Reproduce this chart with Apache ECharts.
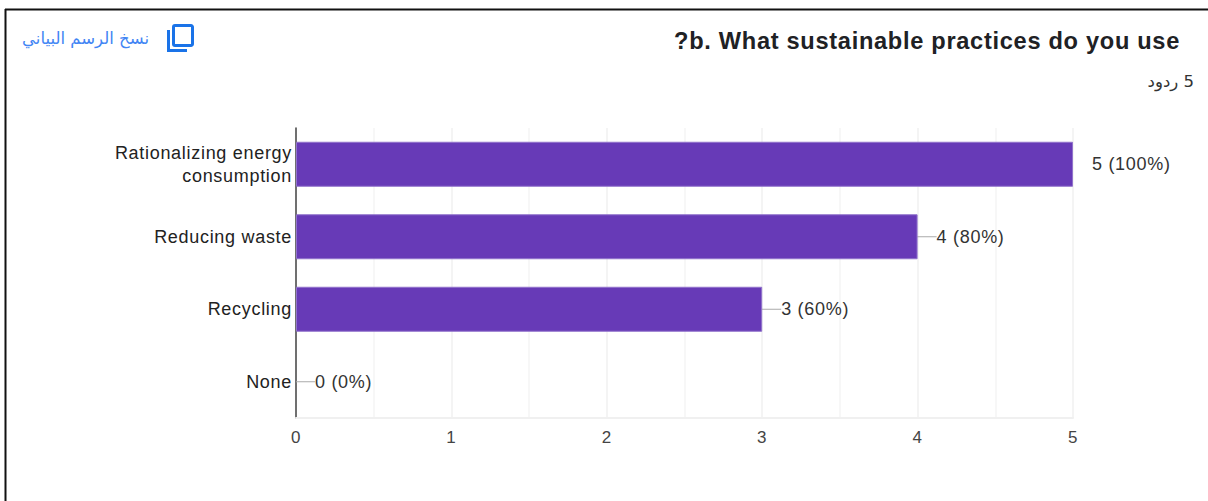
<!DOCTYPE html>
<html><head><meta charset="utf-8">
<style>html,body{margin:0;padding:0;background:#fff}#c{width:1208px;height:501px}
#c text{letter-spacing:.7px}
#c text[style*="DejaVu"]{letter-spacing:0}
</style>
<script src="https://cdn.jsdelivr.net/npm/echarts@6/dist/echarts.min.js"></script>
</head><body><div id="c"></div>
<script>
const categories = ['Rationalizing energy\nconsumption', 'Reducing waste', 'Recycling', 'None'];
const values = [5, 4, 3, 0];
const valueLabels = ['5 (100%)', '4 (80%)', '3 (60%)', '0 (0%)'];
const titleText = '?b. What sustainable practices do you use';
const copyText = 'نسخ الرسم البياني';
const responsesText = '\u200f5 ردود';
const FONT = '"Liberation Sans", Arial, sans-serif';
const chart = echarts.init(document.getElementById('c'), null, { renderer: 'svg' });
chart.setOption({
  animation: false,
  backgroundColor: '#fff',
  grid: { left: 296, top: 128, width: 777, height: 290, containLabel: false },
  xAxis: {
    type: 'value', min: 0, max: 5, interval: 1,
    axisLine: { show: true, lineStyle: { color: '#f0f0f0', width: 2 } }, axisTick: { show: false },
    axisLabel: { color: '#444', fontFamily: FONT, fontSize: 17, margin: 11 },
    splitLine: { show: true, lineStyle: { color: '#f0f0f0', width: 1.5 } },
    minorTick: { show: false, splitNumber: 2 },
    minorSplitLine: { show: true, lineStyle: { color: '#f5f5f5', width: 1.5 } }
  },
  yAxis: {
    type: 'category', data: categories, inverse: true,
    axisLine: { show: true, onZero: false, lineStyle: { color: '#444', width: 1.5 } },
    axisTick: { show: false },
    axisLabel: { color: '#222', fontFamily: FONT, fontSize: 18, margin: 4, lineHeight: 23, align: 'right' }
  },
  series: [{
    type: 'bar', barWidth: 45,
    data: values.map((v, i) => ({
      value: v,
      itemStyle: { borderWidth: v === 0 ? 0 : 1 },
      labelLine: { show: v !== 5 }
    })),
    itemStyle: { color: '#673ab7', borderColor: '#9173cb' },
    label: {
      show: true, position: 'right', distance: 0, padding: [0, 0, 0, 3],
      formatter: p => valueLabels[p.dataIndex],
      color: '#333', fontFamily: FONT, fontSize: 18
    },
    labelLayout: { dx: 16 },
    labelLine: { show: true, lineStyle: { color: '#aaa', width: 1 } }
  }],
  graphic: [
    { type: 'line', shape: { x1: 5, y1: 9.5, x2: 1208, y2: 9.5 }, style: { stroke: '#111', lineWidth: 2 } },
    { type: 'line', shape: { x1: 5.5, y1: 9, x2: 5.5, y2: 501 }, style: { stroke: '#111', lineWidth: 2 } },
    { type: 'text', style: { text: titleText, x: 1180, y: 41, align: 'right', verticalAlign: 'middle', font: 'bold 23.6px ' + FONT, fill: '#202124' } },
    { type: 'text', style: { text: responsesText, x: 1194, y: 81, align: 'right', verticalAlign: 'middle', font: '16.5px "DejaVu Sans", ' + FONT, fill: '#333' } },
    { type: 'text', style: { text: copyText, x: 149, y: 38, align: 'right', verticalAlign: 'middle', font: '16.5px "DejaVu Sans", ' + FONT, fill: '#4285f4' } },
    { type: 'rect', shape: { x: 173.5, y: 25.5, width: 19, height: 20, r: 1.5 }, style: { fill: 'none', stroke: '#1a73e8', lineWidth: 3 } },
    { type: 'polyline', shape: { points: [[168.5, 30], [168.5, 50.5], [187, 50.5]] }, style: { fill: 'none', stroke: '#1a73e8', lineWidth: 3 } }
  ]
});
</script></body></html>
